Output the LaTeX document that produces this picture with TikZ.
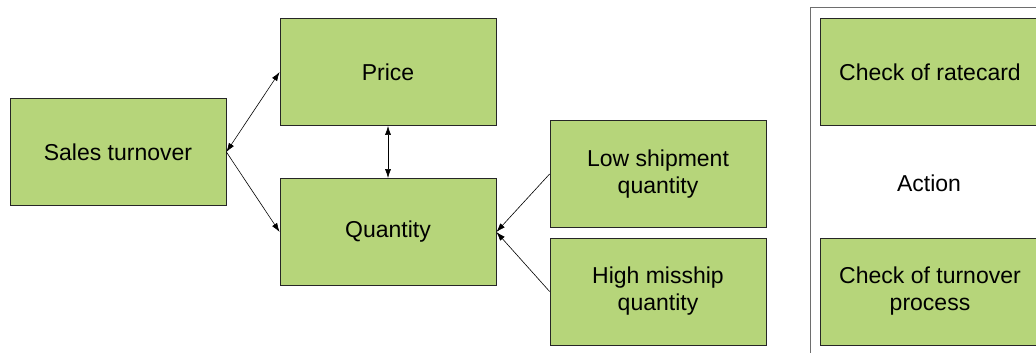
\documentclass[tikz,border=0pt]{standalone}
\usepackage{fontspec}
\setmainfont{Liberation Sans}
\usetikzlibrary{arrows.meta}
\definecolor{boxgreen}{RGB}{182,213,122}
\definecolor{framegray}{RGB}{110,110,110}
\tikzset{
  factor/.style={draw=black!85, line width=0.8pt, fill=boxgreen, rectangle,
    minimum width=216pt, minimum height=107pt, inner sep=0pt, align=center,
    font=\fontsize{23}{27}\selectfont},
  wide/.style={factor, minimum width=220pt},
  link/.style={line width=0.6pt, -{Latex[length=9pt,width=6pt]}},
  dlink/.style={line width=0.6pt, {Latex[length=9pt,width=6pt]}-{Latex[length=9pt,width=6pt]}},
  label/.style={font=\fontsize{23}{27}\selectfont, inner sep=0pt}
}
\begin{document}
\begin{tikzpicture}[x=1pt,y=-1pt]
  \useasboundingbox (0,0) rectangle (1036,353);
  \clip (0,0) rectangle (1036,353);
  % action panel frame
  \draw[framegray, line width=1pt] (1050,7.5) -- (810,7.5) -- (810,370);
  % driver tree
  \node[factor] (sales) at (118,152) {Sales turnover};
  \node[factor] (price) at (388,72) {Price};
  \node[factor] (qty) at (388,232) {Quantity};
  \node[factor] (low) at (658,174) {Low shipment\\quantity};
  \node[factor] (high) at (658,291.5) {High misship\\quantity};
  % actions
  \node[wide] (rate) at (930,72) {Check of ratecard};
  \node[label] (action) at (929,183) {Action};
  \node[wide] (proc) at (930,291.5) {Check of turnover\\process};
  % connectors
  \draw[dlink] (sales.east) -- (price.west);
  \draw[link] (sales.east) -- (qty.west);
  \draw[dlink] (price.south) -- (qty.north);
  \draw[link] (low.west) -- (qty.east);
  \draw[link] (high.west) -- (qty.east);
\end{tikzpicture}
\end{document}
